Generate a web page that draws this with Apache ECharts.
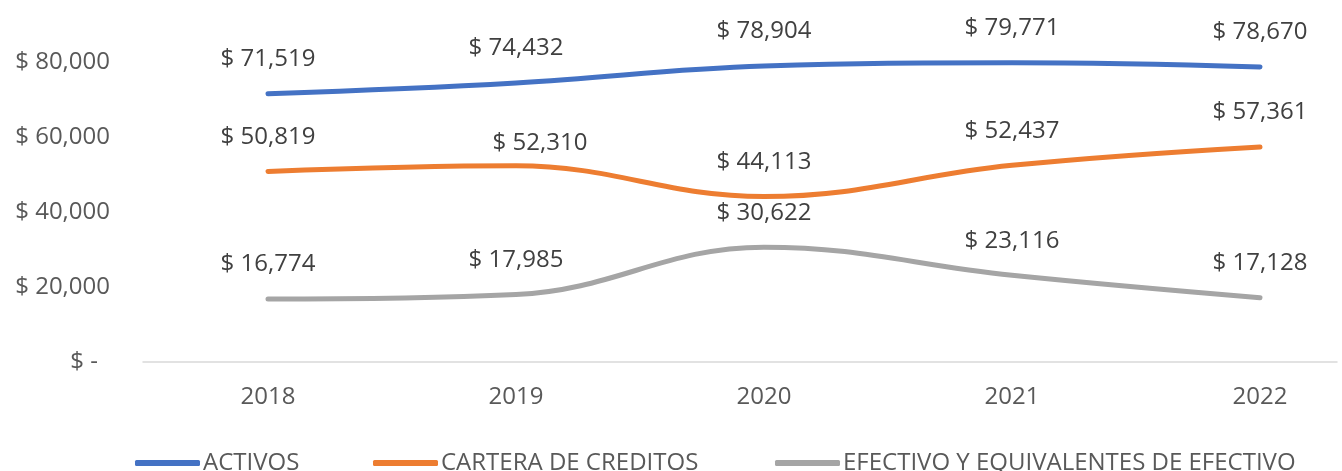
<!DOCTYPE html>
<html>
<head>
<meta charset="utf-8">
<script src="https://cdn.jsdelivr.net/npm/echarts@6/dist/echarts.min.js"></script>
<style>
  html, body { margin: 0; padding: 0; background: #fff; }
  #main { width: 1342px; height: 471px; }
</style>
</head>
<body>
<div id="main"></div>
<script>
const years = ['2018', '2019', '2020', '2021', '2022'];
const activos = [71519, 74432, 78904, 79771, 78670];
const cartera = [50819, 52310, 44113, 52437, 57361];
const efectivo = [16774, 17985, 30622, 23116, 17128];
const seriesNames = ['ACTIVOS', 'CARTERA DE CREDITOS', 'EFECTIVO Y EQUIVALENTES DE EFECTIVO'];
const colors = ['#4472C4', '#ED7D31', '#A5A5A5'];

const font = '"Open Sans", "Noto Sans", sans-serif';

function money(v) {
    return '$ ' + v.toLocaleString('en-US');
}

// labels moved by hand in the original (series index -> point index -> offset)
const labelShift = { 1: { 1: [24, 12] } };

function makeSeries(idx, data) {
    let color = colors[idx];
    return {
        name: seriesNames[idx],
        type: 'line',
        data: data.map(function (v, i) {
            let s = labelShift[idx] && labelShift[idx][i];
            return s ? { value: v, label: { offset: s } } : v;
        }),
        smooth: 0.4,
        symbol: 'circle',
        symbolSize: 1,
        showSymbol: true,
        itemStyle: { color: color },
        lineStyle: { width: 5, color: color, cap: 'round' },
        label: {
            show: true,
            position: 'top',
            distance: 22,
            color: '#404040',
            fontSize: 24,
            fontFamily: font,
            formatter: function (p) { return money(p.value); }
        },
        emphasis: { disabled: true }
    };
}

function legendAt(name, left) {
    return {
        data: [name],
        left: left,
        top: 446,
        icon: 'roundRect',
        itemWidth: 65,
        itemHeight: 6,
        itemGap: 5,
        textStyle: { color: '#595959', fontSize: 24, fontFamily: font, padding: [0, 0, 0, -2] }
    };
}

let myChart = echarts.init(document.getElementById('main'));
let option = {
    backgroundColor: '#fff',
    animation: false,
    color: colors,
    grid: [
        // plot area: points sit at the category positions
        { left: 268, right: 82, top: 62, bottom: 109, containLabel: false },
        // full-width frame that only carries the baseline
        { left: 143, right: 5, top: 62, bottom: 109, containLabel: false }
    ],
    legend: [
        legendAt(seriesNames[0], 130),
        legendAt(seriesNames[1], 368),
        legendAt(seriesNames[2], 770)
    ],
    xAxis: [
        {
            type: 'category',
            gridIndex: 0,
            data: years,
            boundaryGap: false,
            axisLine: { show: false },
            axisTick: { show: false },
            axisLabel: { color: '#595959', fontSize: 24, fontFamily: font, margin: 23 }
        },
        {
            type: 'value',
            gridIndex: 1,
            min: 0,
            max: 1,
            axisLine: { show: true, lineStyle: { color: '#D9D9D9', width: 1.5 } },
            axisTick: { show: false },
            axisLabel: { show: false },
            splitLine: { show: false }
        }
    ],
    yAxis: [
        {
            type: 'value',
            gridIndex: 0,
            min: 0,
            max: 80000,
            interval: 20000,
            splitLine: { show: false },
            axisLine: { show: false },
            axisTick: { show: false },
            axisLabel: { show: false }
        },
        {
            type: 'value',
            gridIndex: 1,
            min: 0,
            max: 80000,
            interval: 20000,
            splitLine: { show: false },
            axisLine: { show: false },
            axisTick: { show: false },
            axisLabel: {
                color: '#595959',
                fontSize: 24,
                fontFamily: font,
                margin: 33,
                formatter: function (v) {
                    return v === 0 ? '{z|$ -}' : money(v);
                },
                rich: {
                    z: { color: '#595959', fontSize: 24, fontFamily: font, padding: [0, 12, 0, 0] }
                }
            }
        }
    ],
    series: [
        makeSeries(0, activos),
        makeSeries(1, cartera),
        makeSeries(2, efectivo)
    ]
};
myChart.setOption(option);

window.addEventListener('resize', function () {
    myChart.resize();
}, false);
</script>
</body>
</html>
